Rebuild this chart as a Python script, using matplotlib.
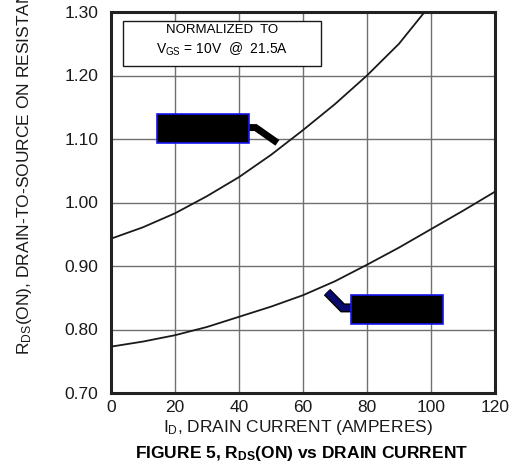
import matplotlib
matplotlib.use('Agg')
import matplotlib.pyplot as plt
import matplotlib.patheffects as pe
from matplotlib.patches import Rectangle
import numpy as np

plt.rcParams['font.family'] = 'Liberation Sans'
plt.rcParams['mathtext.fontset'] = 'custom'
plt.rcParams['mathtext.rm'] = 'Liberation Sans'
plt.rcParams['mathtext.it'] = 'Liberation Sans'
plt.rcParams['mathtext.bf'] = 'Liberation Sans:bold'
plt.rcParams['mathtext.default'] = 'regular'

# drain current (A) and normalized RDS(on)
i_hi = [0, 10, 20, 30, 40, 50, 60, 70, 80, 90, 98]
r_hi = [0.943, 0.961, 0.983, 1.010, 1.040, 1.075, 1.114, 1.155, 1.200, 1.250, 1.300]
i_lo = [0, 10, 20, 30, 40, 50, 60, 70, 80, 90, 100, 110, 120]
r_lo = [0.773, 0.781, 0.791, 0.804, 0.820, 0.836, 0.854, 0.876, 0.902, 0.929, 0.958, 0.987, 1.017]

xticks = [0, 20, 40, 60, 80, 100, 120]
yticks = [0.70, 0.80, 0.90, 1.00, 1.10, 1.20, 1.30]

fig = plt.figure(figsize=(5.16, 4.67), dpi=100)
ax = fig.add_axes([111/516, 1-393/467, 384/516, 381/467])

ax.plot(i_hi, r_hi, color='#1a1a1a', lw=1.3, zorder=3)
ax.plot(i_lo, r_lo, color='#1a1a1a', lw=1.3, zorder=3)

ax.set_xlim(0, 120)
ax.set_ylim(0.70, 1.30)
ax.set_xticks(xticks)
ax.set_yticks(yticks)
ax.set_yticklabels(['%.2f' % v for v in yticks])
ax.tick_params(length=0, labelsize=12.5, colors='#1a1a1a')
ax.tick_params(axis='y', pad=9)
ax.tick_params(axis='x', pad=5)
ax.grid(True, color='#707070', lw=1.0)
for s in ax.spines.values():
    s.set_linewidth(2.2)
    s.set_color('#222222')

# normalization note
ax.add_patch(Rectangle((3.75, 1.215), 61.9, 0.071, facecolor='white',
                       edgecolor='#1a1a1a', lw=1.0, zorder=4))
ax.text(34.7, 1.2715, 'NORMALIZED  TO', ha='center', va='center', fontsize=9.5, zorder=5)
ax.text(34.7, 1.2405, r'V$_{GS}$ = 10V  @  21.5A', ha='center', va='center', fontsize=10, zorder=5)

# redacted callouts
ax.add_patch(Rectangle((14.4, 1.094), 28.7, 0.045, facecolor='black',
                       edgecolor='#1515ee', lw=1.2, zorder=6))
ax.plot([43.1, 45.2, 52.0], [1.118, 1.118, 1.094], color='black', lw=5,
        solid_capstyle='butt', solid_joinstyle='miter', zorder=5)
ax.add_patch(Rectangle((75.0, 0.809), 28.75, 0.045, facecolor='black',
                       edgecolor='#1515ee', lw=1.2, zorder=6))
ax.plot([67.5, 72.4, 75.0], [0.859, 0.834, 0.834], color='#0a0a6e', lw=4.5,
        solid_capstyle='butt', solid_joinstyle='miter', zorder=5,
        path_effects=[pe.Stroke(linewidth=6.5, foreground='black'), pe.Normal()])

fig.text(0.047, 1-355/467, r'R$_{DS}$(ON), DRAIN-TO-SOURCE ON RESISTANCE (NORMALIZED)',
         rotation=90, ha='center', va='bottom', fontsize=12.5, color='#1a1a1a')
fig.text(298/516, 1-432/467, r'I$_{D}$, DRAIN CURRENT (AMPERES)',
         ha='center', va='baseline', fontsize=12.5, color='#1a1a1a')
fig.text(302/516, 1-458/467, r'FIGURE 5, R$_{\mathbf{DS}}$(ON) vs DRAIN CURRENT',
         ha='center', va='baseline', fontsize=12.5, fontweight='bold')

fig.savefig('out.png', dpi=100)
